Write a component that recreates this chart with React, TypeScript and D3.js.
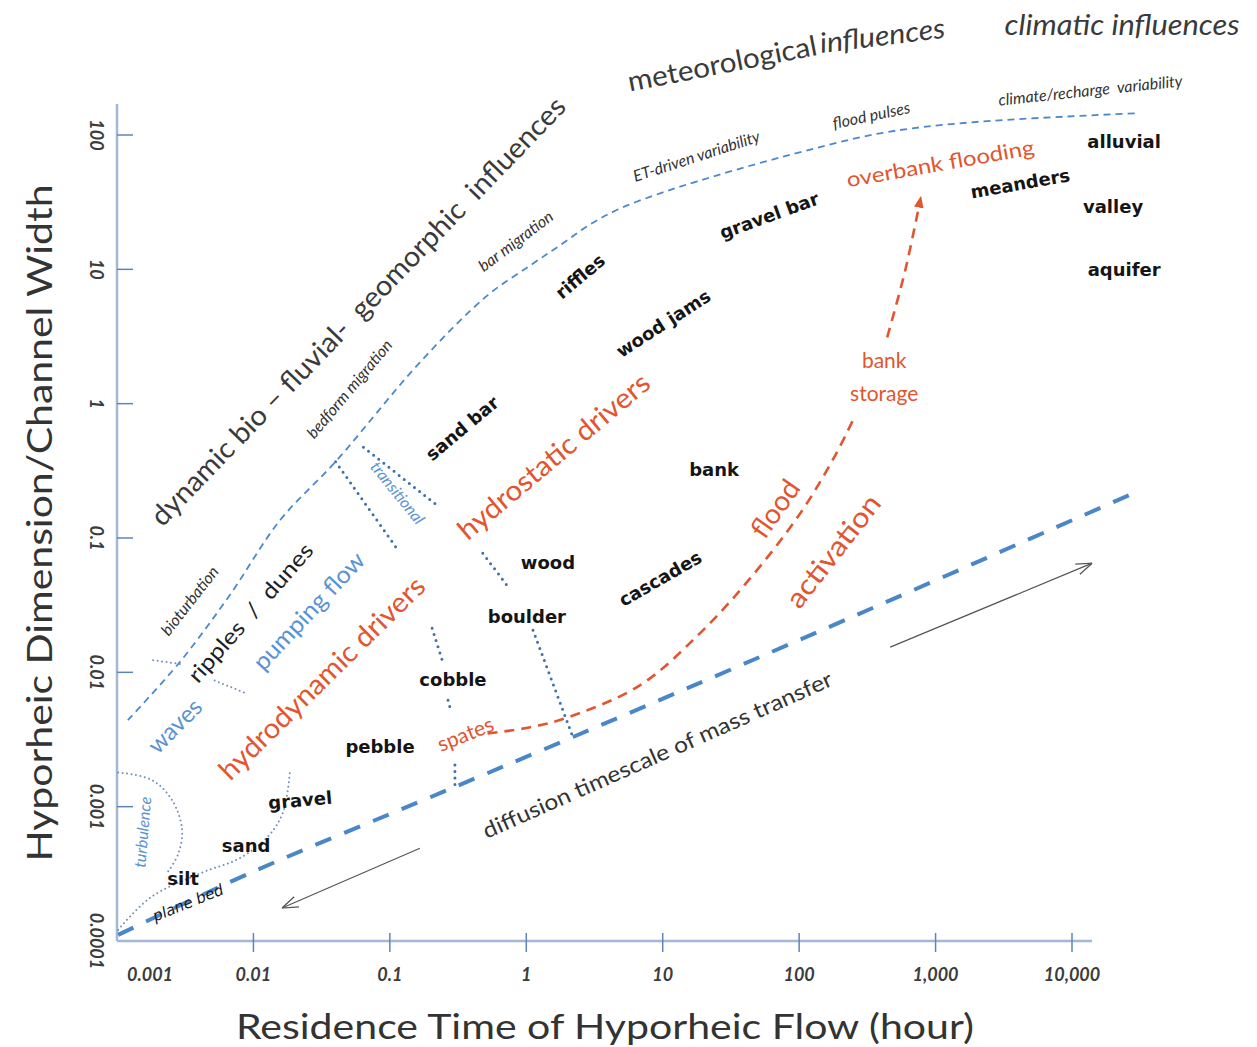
import React, { useRef, useEffect } from 'react';
import * as d3 from 'd3';

// [residence time (hour), hyporheic dimension / channel width]
type Pt = [number, number];

const X_TICKS = [0.001, 0.01, 0.1, 1, 10, 100, 1000, 10000];
const X_TICK_LABELS = ['0.001', '0.01', '0.1', '1', '10', '100', '1,000', '10,000'];
const Y_TICKS = [0.0001, 0.001, 0.01, 0.1, 1, 10, 100];
const Y_TICK_LABELS = ['0.0001', '0.001', '0.01', '0.1', '1', '10', '100'];
const Y_AXIS_TOP = 170;
const X_AXIS_END = 14000;

// thin blue dashed envelope (upper limit of geomorphic features)
const GEOMORPHIC_LIMIT: Pt[] = [
  [0.0012, 0.0044], [0.0029, 0.012], [0.0067, 0.0375], [0.0157, 0.136],
  [0.04, 0.37], [0.166, 2.03], [0.52, 6.4], [1.07, 10.7], [1.77, 15.1],
  [2.94, 21.6], [4.88, 28.4], [9.57, 36.8], [17.9, 45.2], [72.6, 68],
  [393, 103], [1794, 124], [29000, 145],
];

// thick blue dashed line: diffusion timescale of mass transfer
const DIFFUSION_LIMIT: Pt[] = [
  [0.00102, 0.000111], [0.0094, 0.00032], [0.233, 0.00126],
  [2.2, 0.0033], [100, 0.0174], [28100, 0.215],
];

// red dashed flood activation path (broken at the "bank storage" note)
const FLOOD_LOWER: Pt[] = [
  [0.52, 0.0035], [1.07, 0.0039], [1.99, 0.0046], [6.8, 0.008], [18.8, 0.0196],
  [43.7, 0.05], [102, 0.153], [184, 0.413], [258, 0.82],
];
const FLOOD_UPPER: Pt[] = [[442, 3.12], [599, 9.8], [771, 32.6]];

// heavy dotted boundaries between feature classes
const DOTTED_BOUNDARIES: Pt[][] = [
  [[0.04, 0.37], [0.115, 0.081]],
  [[0.064, 0.474], [0.222, 0.175]],
  [[0.48, 0.077], [0.72, 0.0446]],
  [[0.204, 0.0213], [0.242, 0.0123]],
  [[0.267, 0.0062], [0.281, 0.0051]],
  [[0.3, 0.00204], [0.3, 0.00137]],
  [[1.12, 0.0206], [2.17, 0.0034]],
];

// faint dotted boundaries in the small-scale corner
const FAINT_BOUNDARIES: Pt[][] = [
  [[0.00184, 0.0123], [0.003, 0.0115]],
  [[0.0052, 0.0087], [0.009, 0.0069]],
  [[0.00102, 0.000121], [0.00175, 0.00021], [0.0041, 0.00032], [0.008, 0.000415],
    [0.0128, 0.0006], [0.0165, 0.00091], [0.0185, 0.0018]],
  [[0.00102, 0.0018], [0.0018, 0.00158], [0.00253, 0.00112], [0.003, 0.00067],
    [0.0028, 0.00044], [0.00237, 0.00033]],
];

const TREND_ARROWS: Pt[][] = [
  [[465, 0.0154], [14060, 0.065]],
  [[0.166, 0.00049], [0.0162, 0.000176]],
];

type Kind =
  | 'heading' | 'headingItalic' | 'annotation' | 'scale' | 'feature' | 'bed'
  | 'driver' | 'note' | 'process' | 'processSmall' | 'bedform';

interface Label { text: string; at: Pt; angle: number; kind: Kind; len?: number }

const LABELS: Label[] = [
  { text: 'meteorological', at: [27.2, 347], angle: -11, kind: 'heading', len: 192 },
  { text: 'influences', at: [406, 561], angle: -7, kind: 'headingItalic', len: 126 },
  { text: 'climatic influences', at: [23300, 665], angle: 0, kind: 'headingItalic', len: 235 },
  { text: 'dynamic bio – fluvial-  geomorphic  influences', at: [0.0575, 4.95], angle: -46, kind: 'heading', len: 583 },
  { text: 'bar migration', at: [0.83, 16.4], angle: -37, kind: 'scale' },
  { text: 'bedform migration', at: [0.05, 1.3], angle: -50, kind: 'scale' },
  { text: 'ET-driven variability', at: [17.6, 70.5], angle: -18, kind: 'scale' },
  { text: 'flood pulses', at: [337, 142], angle: -12, kind: 'scale' },
  { text: 'climate/recharge  variability', at: [13600, 218], angle: -6, kind: 'scale' },
  { text: 'bioturbation', at: [0.00337, 0.0344], angle: -52, kind: 'scale' },
  { text: 'alluvial', at: [24100, 89.6], angle: 0, kind: 'feature' },
  { text: 'valley', at: [20000, 29.4], angle: 0, kind: 'feature' },
  { text: 'aquifer', at: [24100, 10], angle: 0, kind: 'feature' },
  { text: 'meanders', at: [4170, 43.6], angle: -10, kind: 'feature' },
  { text: 'gravel bar', at: [60.3, 25.2], angle: -20, kind: 'feature' },
  { text: 'riffles', at: [2.48, 8.87], angle: -40, kind: 'feature' },
  { text: 'wood jams', at: [10.1, 3.96], angle: -33, kind: 'feature' },
  { text: 'sand bar', at: [0.338, 0.656], angle: -40, kind: 'feature' },
  { text: 'bank', at: [23.8, 0.325], angle: 0, kind: 'feature' },
  { text: 'cascades', at: [9.57, 0.05], angle: -30, kind: 'feature' },
  { text: 'wood', at: [1.44, 0.066], angle: 0, kind: 'feature' },
  { text: 'boulder', at: [1.01, 0.0262], angle: 0, kind: 'feature' },
  { text: 'cobble', at: [0.29, 0.0089], angle: 0, kind: 'feature' },
  { text: 'pebble', at: [0.0847, 0.00282], angle: 0, kind: 'feature' },
  { text: 'gravel', at: [0.022, 0.00112], angle: -5, kind: 'feature' },
  { text: 'sand', at: [0.00883, 0.000518], angle: 0, kind: 'feature' },
  { text: 'silt', at: [0.00305, 0.000294], angle: 0, kind: 'feature' },
  { text: 'plane bed', at: [0.00332, 0.000192], angle: -22, kind: 'bed' },
  { text: 'hydrostatic drivers', at: [1.57, 0.413], angle: -40, kind: 'driver', len: 241 },
  { text: 'hydrodynamic drivers', at: [0.0313, 0.0092], angle: -44.5, kind: 'driver', len: 276 },
  { text: 'flood', at: [65.6, 0.167], angle: -55, kind: 'driver' },
  { text: 'activation', at: [175, 0.081], angle: -52, kind: 'driver', len: 135 },
  { text: 'overbank flooding', at: [1080, 62.5], angle: -10, kind: 'note', len: 190 },
  { text: 'bank', at: [420, 2.13], angle: 0, kind: 'note' },
  { text: 'storage', at: [420, 1.21], angle: 0, kind: 'note' },
  { text: 'spates', at: [0.356, 0.00353], angle: -22, kind: 'note' },
  { text: 'waves', at: [0.00262, 0.00405], angle: -45, kind: 'process' },
  { text: 'pumping flow', at: [0.0251, 0.029], angle: -47, kind: 'process', len: 151 },
  { text: 'transitional', at: [0.115, 0.219], angle: 51, kind: 'processSmall' },
  { text: 'turbulence', at: [0.00152, 0.000647], angle: -85, kind: 'processSmall' },
  { text: 'ripples  /  dunes', at: [0.00944, 0.028], angle: -48.7, kind: 'bedform', len: 177 },
  { text: 'diffusion timescale of mass transfer', at: [9.1, 0.00246], angle: -23.9, kind: 'annotation', len: 380 },
];

const SANS = 'Lato, "Open Sans", sans-serif';
const HAND = '"Comic Sans MS", "DejaVu Sans", sans-serif';
const RED = '#e2552f';
const BLUE = '#5a93d2';

const KIND_STYLE: Record<Kind, { size: number; fill: string; family: string; italic?: boolean; weight?: string }> = {
  heading: { size: 28, fill: '#3a3a3a', family: SANS },
  headingItalic: { size: 28, fill: '#3a3a3a', family: SANS, italic: true },
  annotation: { size: 22, fill: '#333', family: SANS },
  scale: { size: 16, fill: '#333', family: SANS, italic: true },
  feature: { size: 18, fill: '#151515', family: HAND, weight: 'bold' },
  bed: { size: 15, fill: '#151515', family: HAND, italic: true },
  driver: { size: 28, fill: RED, family: SANS },
  note: { size: 21, fill: RED, family: SANS },
  process: { size: 24, fill: BLUE, family: SANS },
  processSmall: { size: 16, fill: BLUE, family: SANS, italic: true },
  bedform: { size: 22, fill: '#1e1e1e', family: SANS },
};

export default function App() {
  const svgRef = useRef<SVGSVGElement>(null);

  useEffect(() => {
    if (!svgRef.current) return;
    const svg = d3.select(svgRef.current);
    svg.selectAll('*').remove();

    const x = d3.scaleLog().domain([0.001, 10000]).range([117, 1072]);
    const y = d3.scaleLog().domain([0.0001, 100]).range([941, 135]);
    const line = d3
      .line<Pt>()
      .x((d) => x(d[0]))
      .y((d) => y(d[1]))
      .curve(d3.curveCatmullRom.alpha(0.5));

    const defs = svg.append('defs');
    defs
      .append('marker')
      .attr('id', 'redHead')
      .attr('viewBox', '0 0 10 10')
      .attr('refX', 6)
      .attr('refY', 5)
      .attr('markerWidth', 12)
      .attr('markerHeight', 12)
      .attr('markerUnits', 'userSpaceOnUse')
      .attr('orient', 'auto')
      .append('path')
      .attr('d', 'M0,1 L10,5 L0,9 z')
      .attr('fill', RED);
    defs
      .append('marker')
      .attr('id', 'openHead')
      .attr('viewBox', '0 0 10 10')
      .attr('refX', 10)
      .attr('refY', 5)
      .attr('markerWidth', 16)
      .attr('markerHeight', 16)
      .attr('markerUnits', 'userSpaceOnUse')
      .attr('orient', 'auto')
      .append('path')
      .attr('d', 'M0,1.5 L10,5 L0,8.5')
      .attr('fill', 'none')
      .attr('stroke', '#555')
      .attr('stroke-width', 0.8);

    // axes
    const x0 = x(0.001);
    const y0 = y(0.0001);
    const axis = svg.append('g');
    axis
      .append('line')
      .attr('x1', x0).attr('x2', x0)
      .attr('y1', y0).attr('y2', y(Y_AXIS_TOP))
      .attr('stroke', '#a3b8d6').attr('stroke-width', 2.5);
    axis
      .append('line')
      .attr('x1', x0).attr('x2', x(X_AXIS_END))
      .attr('y1', y0).attr('y2', y0)
      .attr('stroke', '#a3b8d6').attr('stroke-width', 2.5);

    X_TICKS.forEach((t, i) => {
      if (i > 0) {
        axis
          .append('line')
          .attr('x1', x(t)).attr('x2', x(t))
          .attr('y1', y0 - 8).attr('y2', y0 + 11)
          .attr('stroke', '#5d86b8').attr('stroke-width', 1.5);
      }
      axis
        .append('text')
        .attr('x', x(t) + (i === 0 ? 33 : 0))
        .attr('y', y0 + 33)
        .attr('text-anchor', 'middle')
        .attr('dominant-baseline', 'central')
        .attr('font-family', SANS)
        .attr('font-style', 'italic')
        .attr('font-weight', 'bold')
        .attr('font-size', 18)
        .attr('fill', '#3c3c3c')
        .text(X_TICK_LABELS[i]);
    });

    Y_TICKS.forEach((t, i) => {
      if (i > 0) {
        axis
          .append('line')
          .attr('x1', x0).attr('x2', x0 + 16)
          .attr('y1', y(t)).attr('y2', y(t))
          .attr('stroke', '#5d86b8').attr('stroke-width', 1.5);
      }
      axis
        .append('text')
        .attr('transform', `translate(${x0 - 20},${y(t)}) rotate(90)`)
        .attr('text-anchor', 'middle')
        .attr('dominant-baseline', 'central')
        .attr('font-family', SANS)
        .attr('font-style', 'italic')
        .attr('font-weight', 'bold')
        .attr('font-size', 18)
        .attr('fill', '#3c3c3c')
        .text(Y_TICK_LABELS[i]);
    });

    // axis titles
    svg
      .append('text')
      .attr('x', 605)
      .attr('y', 1025)
      .attr('text-anchor', 'middle')
      .attr('dominant-baseline', 'central')
      .attr('font-family', SANS)
      .attr('font-size', 35)
      .attr('fill', '#333')
      .attr('textLength', 738)
      .attr('lengthAdjust', 'spacingAndGlyphs')
      .text('Residence Time of Hyporheic Flow (hour)');
    svg
      .append('text')
      .attr('transform', 'translate(38,523) rotate(-90)')
      .attr('text-anchor', 'middle')
      .attr('dominant-baseline', 'central')
      .attr('font-family', SANS)
      .attr('font-size', 35)
      .attr('fill', '#333')
      .attr('textLength', 677)
      .attr('lengthAdjust', 'spacingAndGlyphs')
      .text('Hyporheic  Dimension/Channel Width');

    // boundaries
    const marks = svg.append('g').attr('fill', 'none');
    FAINT_BOUNDARIES.forEach((seg) => {
      marks
        .append('path')
        .attr('d', line(seg))
        .attr('stroke', '#6f8fba')
        .attr('stroke-width', 2)
        .attr('stroke-linecap', 'round')
        .attr('stroke-dasharray', '0,4.5');
    });
    DOTTED_BOUNDARIES.forEach((seg) => {
      marks
        .append('path')
        .attr('d', line(seg))
        .attr('stroke', '#3f6fa9')
        .attr('stroke-width', 3)
        .attr('stroke-linecap', 'round')
        .attr('stroke-dasharray', '0,6.5');
    });

    marks
      .append('path')
      .attr('d', line(GEOMORPHIC_LIMIT))
      .attr('stroke', '#4d88cc')
      .attr('stroke-width', 1.8)
      .attr('stroke-dasharray', '7,5');

    marks
      .append('path')
      .attr('d', line(DIFFUSION_LIMIT))
      .attr('stroke', '#4a87c9')
      .attr('stroke-width', 4)
      .attr('stroke-dasharray', '17,14');

    marks
      .append('path')
      .attr('d', line(FLOOD_LOWER))
      .attr('stroke', RED)
      .attr('stroke-width', 2.6)
      .attr('stroke-dasharray', '10,7');
    marks
      .append('path')
      .attr('d', line(FLOOD_UPPER))
      .attr('stroke', RED)
      .attr('stroke-width', 2.6)
      .attr('stroke-dasharray', '10,7')
      .attr('marker-end', 'url(#redHead)');

    TREND_ARROWS.forEach((seg) => {
      marks
        .append('path')
        .attr('d', d3.line<Pt>().x((d) => x(d[0])).y((d) => y(d[1]))(seg))
        .attr('stroke', '#555')
        .attr('stroke-width', 1.2)
        .attr('marker-end', 'url(#openHead)');
    });

    // labels
    const labels = svg.append('g');
    LABELS.forEach((l) => {
      const s = KIND_STYLE[l.kind];
      const t = labels
        .append('text')
        .attr('transform', `translate(${x(l.at[0])},${y(l.at[1])}) rotate(${l.angle})`)
        .attr('text-anchor', 'middle')
        .attr('dominant-baseline', 'central')
        .attr('font-family', s.family)
        .attr('font-size', s.size)
        .attr('font-style', s.italic ? 'italic' : 'normal')
        .attr('font-weight', s.weight ?? 'normal')
        .attr('fill', s.fill)
        .style('white-space', 'pre')
        .text(l.text);
      if (l.len) t.attr('textLength', l.len).attr('lengthAdjust', 'spacingAndGlyphs');
    });
  }, []);

  return (
    <svg
      ref={svgRef}
      width={1257}
      height={1047}
      style={{ position: 'absolute', left: 0, top: 0, background: '#fff' }}
    />
  );
}
